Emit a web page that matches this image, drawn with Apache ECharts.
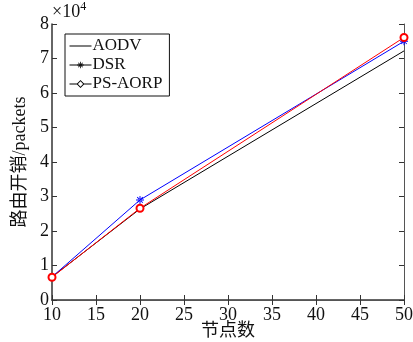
<!DOCTYPE html>
<html><head><meta charset="utf-8">
<script src="https://cdn.jsdelivr.net/npm/echarts@6/dist/echarts.min.js"></script>
<style>html,body{margin:0;padding:0;background:#fff}#c{width:413px;height:342px}</style>
</head><body><div id="c"></div>
<script>
const nodes = [10, 20, 50];
const aodv = [6700, 26400, 72200];
const dsr = [6700, 29000, 75000];
const psaorp = [6600, 26600, 76100];
const seriesNames = ['AODV', 'DSR', 'PS-AORP'];
const xTicks = [10, 15, 20, 25, 30, 35, 40, 45, 50];
const yTicks = [0, 1, 2, 3, 4, 5, 6, 7, 8];

const serif = '"Liberation Serif", "Noto Sans CJK SC", serif';
const star = 'path://M-1 -0.12 L1 -0.12 L1 0.12 L-1 0.12 Z M-0.12 -1 L0.12 -1 L0.12 1 L-0.12 1 Z M-0.78 -0.62 L0.62 0.78 L0.78 0.62 L-0.62 -0.78 Z M0.62 -0.78 L0.78 -0.62 L-0.62 0.78 L-0.78 0.62 Z';
const lineIcon = 'path://M0 3.6 L22 3.6 L22 4.4 L0 4.4 Z M0 0 L0.01 0 L0.01 0.01 Z M0 8 L0.01 8 L0.01 7.99 Z';
const diamondLineIcon = 'path://M0 3.6 L7.5 3.6 L11 0 L14.5 3.6 L22 3.6 L22 4.4 L14.5 4.4 L11 8 L7.5 4.4 L0 4.4 Z M11 1.3 L8.4 4 L11 6.7 L13.6 4 Z';

const chart = echarts.init(document.getElementById('c'), null, {renderer: 'canvas'});
const pair = a => nodes.map((x, i) => [x, a[i]]);
const axisBase = {
  axisLine: {show: true, lineStyle: {color: '#333', width: 1.5}},
  axisTick: {show: true, inside: true, length: 5, lineStyle: {color: '#333'}},
  splitLine: {show: false}
};
chart.setOption({
  animation: false,
  backgroundColor: '#fff',
  grid: {left: 52, right: 9, top: 24, bottom: 42, containLabel: false, outerBoundsMode: 'none'},
  graphic: [{
    type: 'text', left: 52, top: 1,
    style: {
      text: '{a|×10}{b|4}',
      rich: {
        a: {fontFamily: serif, fontSize: 18, fill: '#111', verticalAlign: 'bottom'},
        b: {fontFamily: serif, fontSize: 12, fill: '#111', verticalAlign: 'top', padding: [0, 0, 8, 0]}
      }
    }
  }],
  legend: {
    orient: 'vertical', left: 65, top: 34,
    padding: [3, 7, 3, 4],
    itemWidth: 22, itemHeight: 8, itemGap: 1,
    borderColor: '#111', borderWidth: 1, borderRadius: 0,
    backgroundColor: '#fff',
    textStyle: {fontFamily: serif, fontSize: 17, color: '#111', padding: [0, 0, 0, -4], lineHeight: 18},
    data: [
      {name: 'AODV', icon: lineIcon, itemStyle: {color: '#000', borderWidth: 0}},
      {name: 'DSR', itemStyle: {color: '#000'}, lineStyle: {color: '#000', width: 1}},
      {name: 'PS-AORP', icon: diamondLineIcon, itemStyle: {color: '#000', borderWidth: 0}}
    ]
  },
  xAxis: [
    Object.assign({}, axisBase, {
      type: 'value', min: 10, max: 50, interval: 5, position: 'bottom',
      name: '节点数', nameLocation: 'middle', nameGap: 22, nameMoveOverlap: false,
      nameTextStyle: {fontFamily: serif, fontSize: 18, color: '#111'},
      axisLabel: {fontFamily: serif, fontSize: 18, color: '#111', margin: 6,
        formatter: v => xTicks.includes(v) ? String(v) : ''}
    }),
    Object.assign({}, axisBase, {
      type: 'value', min: 10, max: 50, interval: 5, position: 'top',
      axisLine: {show: true, lineStyle: {color: '#555', width: 1}},
      axisLabel: {show: false}
    })
  ],
  yAxis: [
    Object.assign({}, axisBase, {
      type: 'value', min: 0, max: 80000, interval: 10000, position: 'left',
      name: '路由开销/packets', nameLocation: 'middle', nameGap: 23, nameRotate: 90, nameMoveOverlap: false,
      nameTextStyle: {fontFamily: serif, fontSize: 18, color: '#111'},
      axisLabel: {fontFamily: serif, fontSize: 18, color: '#111', margin: 3,
        formatter: v => String(yTicks[Math.round(v / 10000)])}
    }),
    Object.assign({}, axisBase, {
      type: 'value', min: 0, max: 80000, interval: 10000, position: 'right',
      axisLine: {show: true, lineStyle: {color: '#555', width: 1}},
      axisLabel: {show: false}
    })
  ],
  series: [
    {name: seriesNames[0], type: 'line', data: pair(aodv), showSymbol: false, symbol: 'none',
      lineStyle: {color: '#000', width: 1}, itemStyle: {color: '#000'}},
    {name: seriesNames[1], type: 'line', data: pair(dsr), symbol: star, symbolSize: 8,
      lineStyle: {color: '#0000ff', width: 1}, itemStyle: {color: '#0000ff'}},
    {name: seriesNames[2], type: 'line', data: pair(psaorp), symbol: 'emptyCircle', symbolSize: 7,
      lineStyle: {color: '#ff0000', width: 1}, itemStyle: {color: '#ff0000', borderWidth: 1}}
  ]
});
</script></body></html>
